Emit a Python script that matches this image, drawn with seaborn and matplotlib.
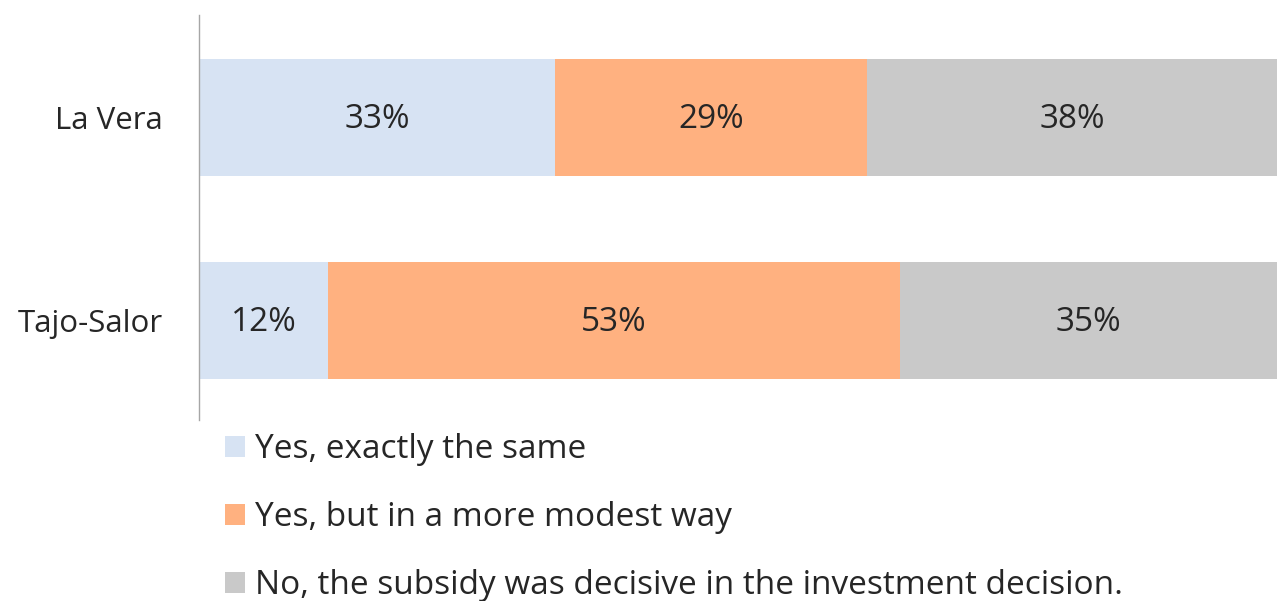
import matplotlib
matplotlib.use("Agg")
import matplotlib.pyplot as plt
import seaborn as sns
import pandas as pd
from matplotlib.patches import Patch

regions = ["La Vera", "Tajo-Salor"]
series = ["Yes, exactly the same", "Yes, but in a more modest way",
          "No, the subsidy was decisive in the investment decision."]
yes_same = [33, 12]
yes_modest = [29, 53]
no_decisive = [38, 35]
colors = ["#D7E3F3", "#FFB180", "#C9C9C9"]

sns.set_theme(style="white")
plt.rcParams['font.family'] = ['Open Sans', 'DejaVu Sans']

FS = 24

fig = plt.figure(figsize=(12.77, 6.01), dpi=100)
ax = fig.add_axes([199/1277, 1-420/601, 1-199/1277, 405/601])

vals = [yes_same, yes_modest, no_decisive]
cum = []
run = [0, 0]
for v in vals:
    run = [r + x for r, x in zip(run, v)]
    cum.append(list(run))

# draw from the total downwards so the stacks appear
for i in [2, 1, 0]:
    df = pd.DataFrame({"region": regions, "value": cum[i]})
    sns.barplot(data=df, x="value", y="region", orient="h", color=colors[i],
                width=0.576, ax=ax, saturation=1, edgecolor="none", linewidth=0)

for j in range(len(regions)):
    start = 0
    for i in range(3):
        v = vals[i][j]
        ax.text(start + v/2, j + 0.012, f"{v}%", ha="center", va="center",
                fontsize=FS, color="#262626")
        start += v

ax.set_xlim(0, 100)
ax.set_ylim(1.49, -0.505)
ax.set_xlabel("")
ax.set_ylabel("")
ax.set_xticks([])
for s in ["top", "right", "bottom"]:
    ax.spines[s].set_visible(False)
ax.spines["left"].set_color("#A6A6A6")
ax.spines["left"].set_linewidth(1.0)
ax.tick_params(axis="y", length=0, pad=26, labelsize=22.5, labelcolor="#262626")

handles = [Patch(facecolor=c, edgecolor="none") for c in colors]
fig.legend(handles, series, loc="upper left", bbox_to_anchor=(225/1277, 1-433/601),
           frameon=False, fontsize=FS, handlelength=0.6, handleheight=0.6,
           handletextpad=0.3, labelspacing=1.05, borderaxespad=0, borderpad=0,
           labelcolor="#262626")

fig.savefig("out.png", dpi=100)
